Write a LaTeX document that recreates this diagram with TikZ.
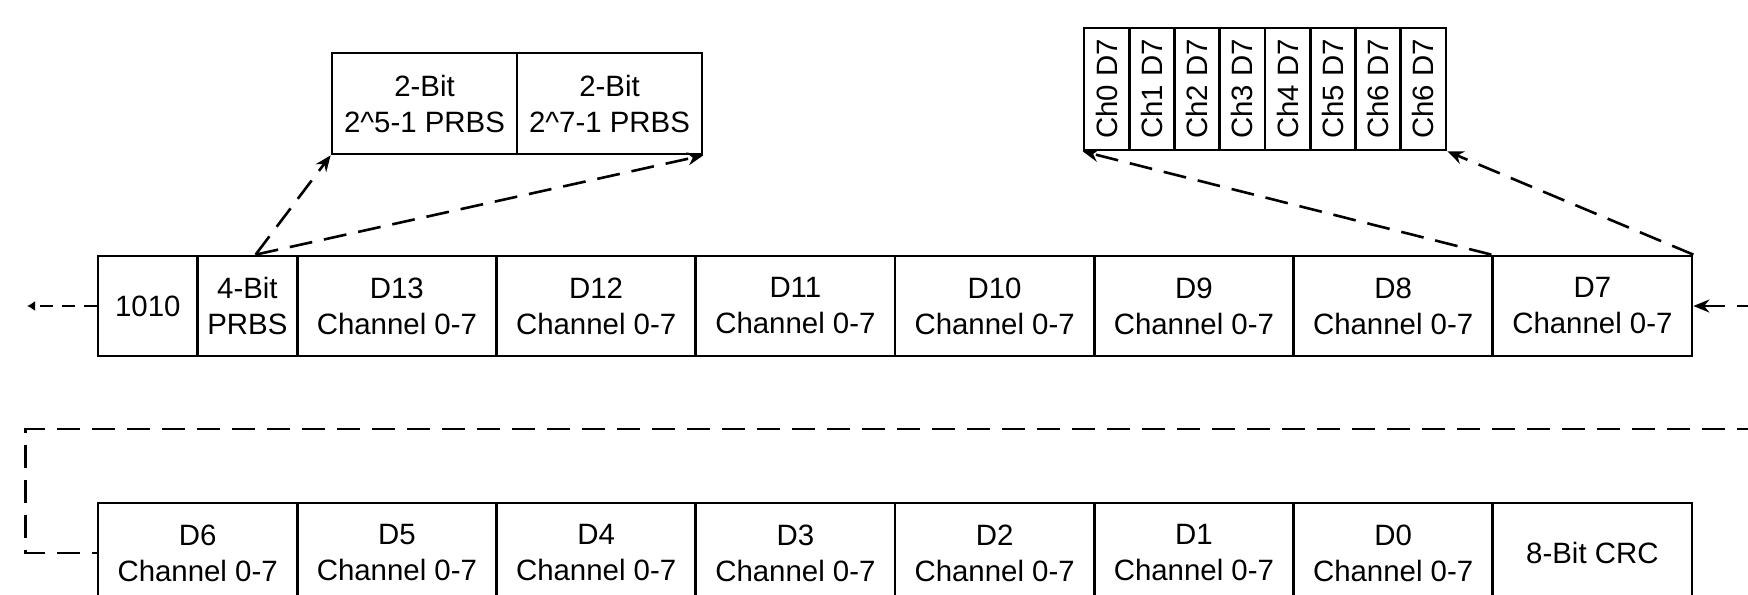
\documentclass[tikz,border=0pt]{standalone}
\usepackage{fontspec}
\setmainfont{Liberation Sans}
\usetikzlibrary{arrows.meta,calc}
\begin{document}
\begin{tikzpicture}[x=0.5pt,y=-0.5pt,
  txt/.style={font=\fontsize{14.7}{18}\selectfont},
  cell/.style={draw, line width=1.35pt, rectangle, inner sep=0pt,
    minimum height=50pt, align=center, txt},
  wide/.style={cell, minimum width=99.625pt},
  narrow/.style={cell, minimum width=49.8125pt},
  subcell/.style={cell, minimum width=92.5pt, minimum height=50.5pt},
  chcell/.style={cell, minimum width=22.625pt, minimum height=61pt},
  link/.style={line width=1.3pt, dash pattern=on 11.5pt off 6pt},
  tip/.style={-{Stealth[length=8pt,width=6.5pt]}},
  smalltip/.style={-{Latex[length=4pt,width=5pt]}, line width=1.1pt,
    dash pattern=on 6.5pt off 4.5pt}
]
\useasboundingbox (0,0) rectangle (1748,594);

% first row of the frame
\node[narrow] (c1010) at (147.8,306) {1010};
\node[narrow] (prbs4) at (247.4,306) {4-Bit\\PRBS};
\foreach \n [count=\i from 0] in {13,12,11,10,9,8,7}
  \node[wide] (d\n) at (396.875+199.25*\i,306) {D\n\\Channel 0-7};

% second row of the frame
\foreach \n [count=\i from 0] in {6,5,4,3,2,1,0}
  \node[wide] (d\n) at (197.625+199.25*\i,553) {D\n\\Channel 0-7};
\node[wide] (crc) at (197.625+199.25*7,553) {8-Bit CRC};

% expansion of the 4-bit PRBS field
\node[subcell] (p5) at (424.5,103.5) {2-Bit\\2\textasciicircum5-1 PRBS};
\node[subcell] (p7) at (609.5,103.5) {2-Bit\\2\textasciicircum7-1 PRBS};

% expansion of the D7 word
\foreach \c [count=\i from 0] in {0,1,2,3,4,5,6,6}
  \node[chcell] (ch\i) at (1084+22.625+45.25*\i,89) {\rotatebox{90}{Ch\c{} D7}};

% dashed expansion links
\coordinate (prbstop) at ($(prbs4.north west)!0.58!(prbs4.north east)$);
\draw[link,tip] (prbstop) -- (p5.south west);
\draw[link,tip] (prbstop) -- (p7.south east);
\draw[link,tip] (d7.north west) -- (ch0.south west);
\draw[link,tip] (d7.north east) -- (ch7.south east);

% serial input and output
\coordinate (outend) at (27,306);
\draw[smalltip] (c1010.west) -- (outend);
\coordinate (inend) at (1760,306);
\draw[link,tip] (inend) -- (d7.east);

% wrap-around from the first row to the second
\coordinate (wrapin) at (1760,429);
\coordinate (wrapcorner) at ($(d6.west)+(-71,0)$);
\draw[link] (wrapin) -| (wrapcorner) -- (d6.west);
\end{tikzpicture}
\end{document}
